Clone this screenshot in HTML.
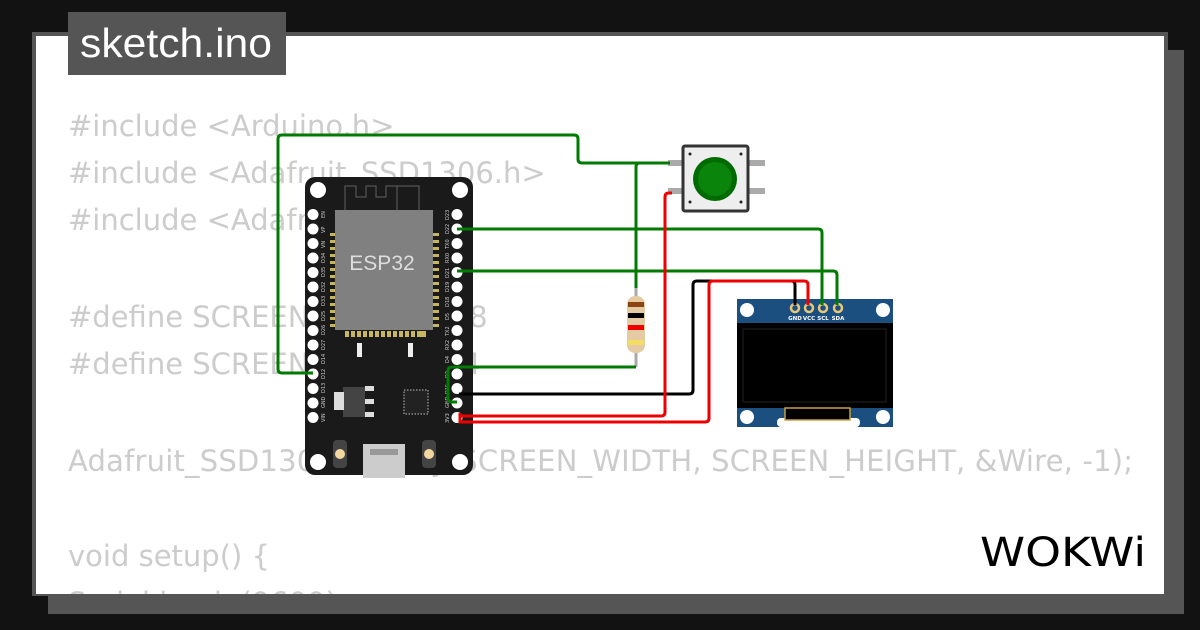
<!DOCTYPE html>
<html><head><meta charset="utf-8"><style>
html,body{margin:0;padding:0;background:#121212;width:1200px;height:630px;overflow:hidden}
</style></head><body>
<svg width="1200" height="630" viewBox="0 0 1200 630" xmlns="http://www.w3.org/2000/svg" style="position:absolute;left:0;top:0">
<rect x="0" y="0" width="1200" height="630" fill="#121212"/>
<rect x="48" y="50" width="1136" height="564" fill="#555"/>
<rect x="32" y="32" width="1136" height="564" fill="#555"/>
<rect x="36" y="36" width="1128" height="558" fill="#fff"/>
<rect x="68" y="12" width="218" height="63" fill="#555"/>
<text x="80" y="57" font-family="Liberation Sans, sans-serif" font-size="41" fill="#fff" textLength="192" lengthAdjust="spacingAndGlyphs">sketch.ino</text>
<clipPath id="c"><rect x="36" y="36" width="1128" height="558"/></clipPath>
<g clip-path="url(#c)" font-family="DejaVu Sans, Liberation Sans, sans-serif" font-size="29" fill="#ccc">
<text x="68" y="136">#include &lt;Arduino.h&gt;</text>
<text x="68" y="183">#include &lt;Adafruit_SSD1306.h&gt;</text>
<text x="68" y="230">#include &lt;Adafruit_GFX.h&gt;</text>
<text x="68" y="327">#define SCREEN_WIDTH 128</text>
<text x="68" y="374">#define SCREEN_HEIGHT 64</text>
<text x="68" y="471" textLength="1065" lengthAdjust="spacing">Adafruit_SSD1306 display(SCREEN_WIDTH, SCREEN_HEIGHT, &amp;Wire, -1);</text>
<text x="68" y="566">void setup() {</text>
<text x="68" y="613">  Serial.begin(9600);</text>
</g>
<!-- ESP32 -->
<rect x="305" y="177" width="168" height="298" rx="10" fill="#1a1a1a"/>
<circle cx="318" cy="190" r="8" fill="#fff"/><circle cx="460" cy="190" r="8" fill="#fff"/>
<circle cx="318" cy="462" r="8" fill="#fff"/><circle cx="460" cy="462" r="8" fill="#fff"/>
<path d="M345 218 V186 H356 V197 H366 V186 H376 V197 H386 V186 H397 V218 M397 186 H419 V218" fill="none" stroke="#555" stroke-width="1.2"/>
<g fill="#c8b560">
<rect x="330" y="233" width="6" height="3"/><rect x="330" y="240" width="6" height="3"/><rect x="330" y="247" width="6" height="3"/><rect x="330" y="254" width="6" height="3"/><rect x="330" y="261" width="6" height="3"/><rect x="330" y="268" width="6" height="3"/><rect x="330" y="275" width="6" height="3"/><rect x="330" y="282" width="6" height="3"/><rect x="330" y="289" width="6" height="3"/><rect x="330" y="296" width="6" height="3"/><rect x="330" y="303" width="6" height="3"/><rect x="330" y="310" width="6" height="3"/><rect x="330" y="317" width="6" height="3"/><rect x="330" y="324" width="6" height="3"/>
<rect x="433" y="233" width="6" height="3"/><rect x="433" y="240" width="6" height="3"/><rect x="433" y="247" width="6" height="3"/><rect x="433" y="254" width="6" height="3"/><rect x="433" y="261" width="6" height="3"/><rect x="433" y="268" width="6" height="3"/><rect x="433" y="275" width="6" height="3"/><rect x="433" y="282" width="6" height="3"/><rect x="433" y="289" width="6" height="3"/><rect x="433" y="296" width="6" height="3"/><rect x="433" y="303" width="6" height="3"/><rect x="433" y="310" width="6" height="3"/><rect x="433" y="317" width="6" height="3"/><rect x="433" y="324" width="6" height="3"/>
<rect x="345" y="331" width="81" height="6"/>
</g>
<g fill="#1a1a1a"><rect x="349" y="331" width="2" height="6"/><rect x="355" y="331" width="2" height="6"/><rect x="361" y="331" width="2" height="6"/><rect x="367" y="331" width="2" height="6"/><rect x="373" y="331" width="2" height="6"/><rect x="379" y="331" width="2" height="6"/><rect x="385" y="331" width="2" height="6"/><rect x="391" y="331" width="2" height="6"/><rect x="397" y="331" width="2" height="6"/><rect x="403" y="331" width="2" height="6"/><rect x="409" y="331" width="2" height="6"/><rect x="415" y="331" width="2" height="6"/></g>
<rect x="335" y="210" width="98" height="120" fill="#808080"/>
<text x="382" y="270" text-anchor="middle" font-family="Liberation Sans, sans-serif" font-size="21" fill="#ddd">ESP32</text>
<rect x="357" y="343" width="5" height="14" fill="#eee"/><rect x="408" y="343" width="5" height="14" fill="#eee"/>
<rect x="343" y="387" width="22" height="30" fill="#444"/><rect x="334" y="392" width="10" height="18" fill="#ddd"/>
<rect x="365" y="386" width="9" height="5" fill="#ddd"/><rect x="365" y="399" width="9" height="5" fill="#ddd"/><rect x="365" y="412" width="9" height="5" fill="#ddd"/>
<rect x="404" y="390" width="24" height="24" fill="#222" stroke="#888" stroke-width="1.5" stroke-dasharray="1.5 1.5"/>
<rect x="333" y="440" width="14" height="28" rx="4" fill="#444"/><circle cx="340" cy="454" r="5" fill="#f2d8a0"/>
<rect x="422" y="440" width="14" height="28" rx="4" fill="#444"/><circle cx="429" cy="454" r="5" fill="#f2d8a0"/>
<rect x="363" y="444" width="42" height="34" fill="#ccc"/><rect x="370" y="449" width="28" height="6" fill="#999"/>
<g fill="#fff">
<circle cx="313" cy="214.5" r="5.5"/><circle cx="313" cy="229" r="5.5"/><circle cx="313" cy="243.5" r="5.5"/><circle cx="313" cy="258" r="5.5"/><circle cx="313" cy="272.5" r="5.5"/><circle cx="313" cy="287" r="5.5"/><circle cx="313" cy="301.5" r="5.5"/><circle cx="313" cy="316" r="5.5"/><circle cx="313" cy="330.5" r="5.5"/><circle cx="313" cy="345" r="5.5"/><circle cx="313" cy="359.5" r="5.5"/><circle cx="313" cy="374" r="5.5"/><circle cx="313" cy="388.5" r="5.5"/><circle cx="313" cy="403" r="5.5"/><circle cx="313" cy="417.5" r="5.5"/>
<circle cx="457" cy="214.5" r="5.5"/><circle cx="457" cy="229" r="5.5"/><circle cx="457" cy="243.5" r="5.5"/><circle cx="457" cy="258" r="5.5"/><circle cx="457" cy="272.5" r="5.5"/><circle cx="457" cy="287" r="5.5"/><circle cx="457" cy="301.5" r="5.5"/><circle cx="457" cy="316" r="5.5"/><circle cx="457" cy="330.5" r="5.5"/><circle cx="457" cy="345" r="5.5"/><circle cx="457" cy="359.5" r="5.5"/><circle cx="457" cy="374" r="5.5"/><circle cx="457" cy="388.5" r="5.5"/><circle cx="457" cy="403" r="5.5"/><circle cx="457" cy="417.5" r="5.5"/>
</g>
<g font-family="DejaVu Sans, sans-serif" font-size="5" fill="#ccc">
<g transform="translate(325,0)">
<text transform="translate(0,218) rotate(-90)">EN</text><text transform="translate(0,233) rotate(-90)">VP</text><text transform="translate(0,248) rotate(-90)">VN</text><text transform="translate(0,263) rotate(-90)">D34</text><text transform="translate(0,277) rotate(-90)">D35</text><text transform="translate(0,292) rotate(-90)">D32</text><text transform="translate(0,306) rotate(-90)">D33</text><text transform="translate(0,321) rotate(-90)">D25</text><text transform="translate(0,335) rotate(-90)">D26</text><text transform="translate(0,350) rotate(-90)">D27</text><text transform="translate(0,364) rotate(-90)">D14</text><text transform="translate(0,379) rotate(-90)">D12</text><text transform="translate(0,393) rotate(-90)">D13</text><text transform="translate(0,408) rotate(-90)">GND</text><text transform="translate(0,422) rotate(-90)">VIN</text>
</g>
<g transform="translate(449,0)">
<text transform="translate(0,220) rotate(-90)">D23</text><text transform="translate(0,234) rotate(-90)">D22</text><text transform="translate(0,249) rotate(-90)">TX0</text><text transform="translate(0,263) rotate(-90)">RX0</text><text transform="translate(0,278) rotate(-90)">D21</text><text transform="translate(0,292) rotate(-90)">D19</text><text transform="translate(0,307) rotate(-90)">D18</text><text transform="translate(0,320) rotate(-90)">D5</text><text transform="translate(0,336) rotate(-90)">TX2</text><text transform="translate(0,350) rotate(-90)">RX2</text><text transform="translate(0,363) rotate(-90)">D4</text><text transform="translate(0,378) rotate(-90)">D2</text><text transform="translate(0,394) rotate(-90)">D15</text><text transform="translate(0,408) rotate(-90)">GND</text><text transform="translate(0,423) rotate(-90)">3V3</text>
</g></g>
<!-- Button -->
<rect x="668" y="160" width="16" height="6" fill="#aaa"/><rect x="668" y="188" width="16" height="6" fill="#aaa"/>
<rect x="746" y="160" width="19" height="6" fill="#aaa"/><rect x="746" y="188" width="19" height="6" fill="#aaa"/>
<rect x="683" y="146" width="65" height="65" rx="2" fill="#eee" stroke="#333" stroke-width="3"/>
<circle cx="690" cy="154" r="1.5" fill="#222"/><circle cx="741" cy="154" r="1.5" fill="#222"/><circle cx="690" cy="202" r="1.5" fill="#222"/><circle cx="741" cy="202" r="1.5" fill="#222"/>
<circle cx="715" cy="179" r="22" fill="#006b00"/><circle cx="715" cy="179" r="17" fill="#0a840a"/>
<!-- Resistor -->
<line x1="636" y1="168" x2="636" y2="367" stroke="#aaa" stroke-width="3"/>
<rect x="627" y="296" width="18" height="57" rx="8" fill="#e5cba4"/>
<rect x="628" y="302" width="16" height="5" fill="#8b4513"/>
<rect x="628" y="313" width="16" height="5" fill="#000"/>
<rect x="628" y="325" width="16" height="5" fill="#e00"/>
<rect x="628" y="340" width="16" height="5" fill="#f2dd66"/>
<!-- OLED -->
<rect x="737" y="299" width="156" height="128" fill="#1b4f7f"/>
<rect x="777" y="418" width="83" height="9" rx="4" fill="#fff"/>
<circle cx="747" cy="310" r="7" fill="#fff"/><circle cx="883" cy="310" r="7" fill="#fff"/><circle cx="747" cy="417" r="7" fill="#fff"/><circle cx="883" cy="417" r="7" fill="#fff"/>
<rect x="737" y="323" width="156" height="85" fill="#000"/>
<rect x="743" y="329" width="143" height="73" fill="none" stroke="#222" stroke-width="1"/>
<rect x="785" y="408" width="65" height="12" fill="#000" stroke="#c8a040" stroke-width="1.5"/>
<g fill="none" stroke="#e8c878" stroke-width="2.5"><circle cx="795" cy="308" r="4"/><circle cx="809" cy="308" r="4"/><circle cx="823" cy="308" r="4"/><circle cx="838" cy="308" r="4"/></g>
<g font-family="DejaVu Sans, sans-serif" font-size="5.5" fill="#fff" text-anchor="middle" font-weight="bold"><text x="795" y="320">GND</text><text x="809" y="320">VCC</text><text x="823" y="320">SCL</text><text x="838" y="320">SDA</text></g>
<!-- Wires -->
<g fill="none" stroke-width="3" stroke-linejoin="round">
<path d="M313 373 H282 Q278 373 278 369 V139 Q278 135 282 135 H574 Q578 135 578 139 V159 Q578 163 582 163 H670" stroke="#007a00"/>
<path d="M640 163 Q636 163 636 167 V288" stroke="#007a00"/>
<path d="M636 367 H452 Q448 367 448 371 V398 Q448 402 452 402 H457" stroke="#007a00"/>
<path d="M457 229 H818 Q822 229 822 233 V305" stroke="#007a00"/>
<path d="M457 271 H833 Q837 271 837 275 V305" stroke="#007a00"/>
<path d="M459 394 H689 Q693 394 693 390 V285 Q693 281 697 281 H791 Q795 281 795 285 V305" stroke="#000"/>
<path d="M460 416 H661 Q665 416 665 412 V197 Q665 193 669 193 H672" stroke="#e00"/>
<path d="M460 413 V422 H705 Q709 422 709 418 V285 Q709 281 713 281 H804 Q808 281 808 285 V305" stroke="#e00"/>
</g>
<text x="980" y="566" font-family="DejaVu Sans, sans-serif" font-size="40" fill="#000" textLength="166" lengthAdjust="spacingAndGlyphs">WOKWi</text>
</svg>
</body></html>
